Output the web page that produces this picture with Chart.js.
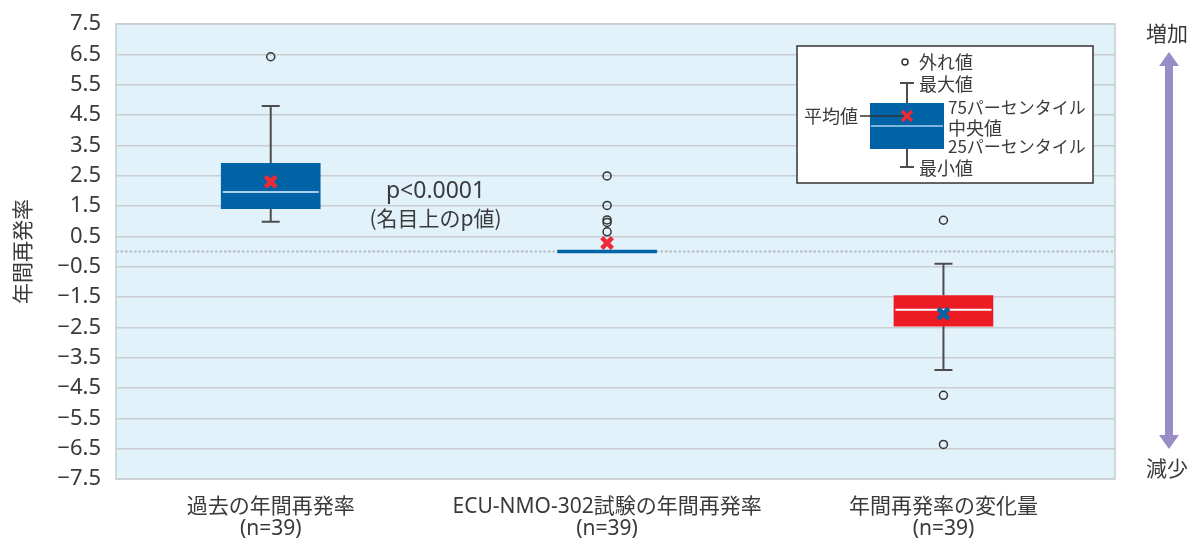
<!DOCTYPE html>
<html lang="ja">
<head>
<meta charset="utf-8">
<script src="https://cdn.jsdelivr.net/npm/chart.js@4.4.1/dist/chart.umd.min.js"></script>
<style>
  html, body { margin: 0; padding: 0; background: #ffffff; }
  #wrap { width: 1193px; height: 538px; }
</style>
</head>
<body>
<div id="wrap"><canvas id="boxChart" width="1193" height="538"></canvas></div>
<script>
// データ
const categories = [
    ['過去の年間再発率', '(n=39)'],
    ['ECU-NMO-302試験の年間再発率', '(n=39)'],
    ['年間再発率の変化量', '(n=39)']
];
const whiskerLow = [0.98, 0.0, -3.91];
const quartile1 = [1.41, 0.0, -2.46];
const medians = [1.96, 0.0, -1.92];
const quartile3 = [2.91, 0.0, -1.45];
const whiskerHigh = [4.80, 0.0, -0.40];
const means = [2.30, 0.28, -2.05];
const outliers = [
    [6.42],
    [2.49, 1.52, 1.04, 0.96, 0.65],
    [1.03, -4.74, -6.36]
];
const yTicks = [-7.5, -6.5, -5.5, -4.5, -3.5, -2.5, -1.5, -0.5, 0.5, 1.5, 2.5, 3.5, 4.5, 5.5, 6.5, 7.5];

const BLUE = '#0063a6';
const RED = '#ed1c24';
const boxColors = [BLUE, BLUE, RED];
const medianColors = ['#a9d1ee', BLUE, '#ffffff'];
const meanColors = ['#ee2a36', '#ee2a36', BLUE];
const TEXT = '#3a3a3a';
const FONT = '"Noto Sans", "Noto Sans CJK JP", sans-serif';
const CJK = '"Noto Sans CJK JP", "Noto Sans", sans-serif';

// 箱ひげ図の補助描画（ひげ・中央値・背景・注記）
const boxPlotExtras = {
    id: 'boxPlotExtras',
    beforeDraw(chart) {
        const { ctx, chartArea: a } = chart;
        ctx.save();
        ctx.fillStyle = '#e2f2fa';
        ctx.fillRect(a.left, a.top, a.right - a.left, a.bottom - a.top);
        ctx.restore();
    },
    beforeDatasetsDraw(chart) {
        const { ctx, chartArea: a, scales: { x, y } } = chart;
        ctx.save();
        // ゼロ線（点線）
        ctx.strokeStyle = '#b3bcc4';
        ctx.lineWidth = 2;
        ctx.setLineDash([2.5, 2]);
        ctx.beginPath();
        ctx.moveTo(a.left, y.getPixelForValue(0));
        ctx.lineTo(a.right, y.getPixelForValue(0));
        ctx.stroke();
        ctx.setLineDash([]);
        // ひげ
        ctx.strokeStyle = '#4d4d4d';
        ctx.lineWidth = 2;
        categories.forEach((c, i) => {
            const cx = x.getPixelForValue(i);
            const pairs = [[quartile3[i], whiskerHigh[i]], [quartile1[i], whiskerLow[i]]];
            pairs.forEach(([from, to]) => {
                if (from === to) return;
                const y1 = y.getPixelForValue(from), y2 = y.getPixelForValue(to);
                ctx.beginPath();
                ctx.moveTo(cx, y1);
                ctx.lineTo(cx, y2);
                ctx.moveTo(cx - 9, y2);
                ctx.lineTo(cx + 9, y2);
                ctx.stroke();
            });
        });
        ctx.restore();
    },
    afterDatasetDraw(chart, args) {
        if (args.index !== 0) return;
        const { ctx, scales: { x, y } } = chart;
        ctx.save();
        ctx.lineWidth = 2;
        medians.forEach((m, i) => {
            if (quartile1[i] === quartile3[i]) return;
            const cx = x.getPixelForValue(i);
            const my = y.getPixelForValue(m);
            ctx.strokeStyle = medianColors[i];
            ctx.beginPath();
            ctx.moveTo(cx - 48, my);
            ctx.lineTo(cx + 48, my);
            ctx.stroke();
        });
        ctx.restore();
    },
    afterDraw(chart) {
        const { ctx, chartArea: a, scales: { x, y } } = chart;
        ctx.save();
        // 枠
        ctx.strokeStyle = '#c9cdd1';
        ctx.lineWidth = 1.5;
        ctx.strokeRect(a.left, a.top, a.right - a.left, a.bottom - a.top);

        // p値
        ctx.fillStyle = TEXT;
        ctx.font = '23px ' + FONT;
        ctx.textAlign = 'center';
        ctx.textBaseline = 'middle';
        ctx.fillText('p<0.0001', x.getPixelForValue(0.49), y.getPixelForValue(1.98));
        ctx.font = '21px ' + CJK;
        ctx.fillText('(名目上のp値)', x.getPixelForValue(0.49), y.getPixelForValue(1.10));

        // Y軸タイトル
        ctx.save();
        ctx.translate(22, (a.top + a.bottom) / 2);
        ctx.rotate(-Math.PI / 2);
        ctx.font = '21px ' + CJK;
        ctx.fillText('年間再発率', 0, 0);
        ctx.restore();

        // 右側の矢印
        const ax = a.right + 54;
        ctx.font = '21px ' + CJK;
        ctx.fillText('増加', ax - 2, 33);
        ctx.fillText('減少', ax - 2, 468);
        ctx.fillStyle = '#9a8cc6';
        ctx.fillRect(ax - 4, 64, 8, 374);
        ctx.beginPath();
        ctx.moveTo(ax, 52); ctx.lineTo(ax - 10, 66); ctx.lineTo(ax + 10, 66); ctx.closePath();
        ctx.fill();
        ctx.beginPath();
        ctx.moveTo(ax, 449); ctx.lineTo(ax - 10, 435); ctx.lineTo(ax + 10, 435); ctx.closePath();
        ctx.fill();

        // 凡例（説明図）
        const L = a.right - 318, T = a.top + 22;
        ctx.fillStyle = '#ffffff';
        ctx.fillRect(L, T, 296, 137);
        ctx.strokeStyle = '#333333';
        ctx.lineWidth = 1.5;
        ctx.strokeRect(L, T, 296, 137);
        const bx = L + 110;
        ctx.strokeStyle = '#4d4d4d';
        ctx.lineWidth = 2;
        ctx.beginPath();
        ctx.moveTo(bx, T + 37); ctx.lineTo(bx, T + 121);
        ctx.moveTo(bx - 7, T + 37); ctx.lineTo(bx + 7, T + 37);
        ctx.moveTo(bx - 7, T + 121); ctx.lineTo(bx + 7, T + 121);
        ctx.stroke();
        ctx.fillStyle = BLUE;
        ctx.fillRect(L + 73, T + 57, 74, 46);
        ctx.strokeStyle = '#a9d1ee';
        ctx.lineWidth = 1.5;
        ctx.beginPath();
        ctx.moveTo(L + 74, T + 80); ctx.lineTo(L + 146, T + 80);
        ctx.stroke();
        ctx.strokeStyle = '#333333';
        ctx.beginPath();
        ctx.arc(L + 108, T + 16, 3, 0, Math.PI * 2);
        ctx.stroke();
        ctx.beginPath();
        ctx.moveTo(L + 63, T + 70); ctx.lineTo(bx, T + 70);
        ctx.stroke();
        ctx.strokeStyle = '#ee2a36';
        ctx.lineWidth = 3.5;
        ctx.beginPath();
        ctx.moveTo(bx - 5, T + 65); ctx.lineTo(bx + 5, T + 75);
        ctx.moveTo(bx + 5, T + 65); ctx.lineTo(bx - 5, T + 75);
        ctx.stroke();
        ctx.fillStyle = TEXT;
        ctx.font = '18px ' + CJK;
        ctx.textAlign = 'left';
        ctx.fillText('外れ値', L + 122, T + 16);
        ctx.fillText('最大値', L + 122, T + 38);
        ctx.fillText('最小値', L + 122, T + 122);
        ctx.fillText('中央値', L + 151, T + 82);
        ctx.font = '17px ' + CJK;
        ctx.fillText('75パーセンタイル', L + 151, T + 62);
        ctx.fillText('25パーセンタイル', L + 151, T + 101);
        ctx.font = '18px ' + CJK;
        ctx.textAlign = 'right';
        ctx.fillText('平均値', L + 61, T + 70);
        ctx.restore();
    }
};

const outlierPoints = [];
outliers.forEach((list, i) => list.forEach(v => outlierPoints.push({ x: i, y: v })));

new Chart(document.getElementById('boxChart'), {
    type: 'bar',
    data: {
        datasets: [
            {
                type: 'bar',
                data: categories.map((c, i) => ({ x: i, y: [quartile1[i], quartile3[i]] })),
                backgroundColor: boxColors,
                borderWidth: 0,
                barThickness: 99,
                minBarLength: 3,
                order: 3
            },
            {
                type: 'scatter',
                data: outlierPoints,
                pointStyle: 'circle',
                pointRadius: 4,
                pointBorderWidth: 1.5,
                pointBorderColor: '#333333',
                pointBackgroundColor: 'rgba(0,0,0,0)',
                order: 2
            },
            {
                type: 'scatter',
                data: means.map((m, i) => ({ x: i, y: m })),
                pointStyle: 'crossRot',
                pointRadius: 7.5,
                pointBorderWidth: 4.5,
                pointBorderColor: meanColors,
                order: 1
            }
        ]
    },
    options: {
        responsive: false,
        animation: false,
        layout: { padding: { top: 24, right: 78, left: 0, bottom: 0 } },
        plugins: { legend: { display: false }, tooltip: { enabled: false } },
        scales: {
            x: {
                type: 'linear',
                offset: false,
                min: -0.46,
                max: 2.51,
                afterBuildTicks: s => { s.ticks = categories.map((c, i) => ({ value: i })); },
                afterFit: s => { s.height = 59; s.paddingLeft = 0; s.paddingRight = 0; },
                grid: { display: false, drawTicks: false },
                border: { display: false },
                ticks: {
                    callback: v => categories[v],
                    color: TEXT,
                    font: { family: FONT, size: 21, lineHeight: 1.05 },
                    padding: 17,
                    maxRotation: 0,
                    autoSkip: false
                }
            },
            y: {
                min: -7.5,
                max: 7.5,
                afterBuildTicks: s => { s.ticks = yTicks.map(v => ({ value: v })); },
                afterFit: s => { s.width = 116; s.paddingTop = 0; s.paddingBottom = 0; },
                grid: { color: '#c9cdd1', lineWidth: 1.5, drawTicks: false },
                border: { display: false },
                ticks: {
                    callback: v => v.toFixed(1).replace('-', '−'),
                    color: TEXT,
                    font: { family: FONT, size: 22 },
                    padding: 15
                }
            }
        }
    },
    plugins: [boxPlotExtras]
});
</script>
</body>
</html>
